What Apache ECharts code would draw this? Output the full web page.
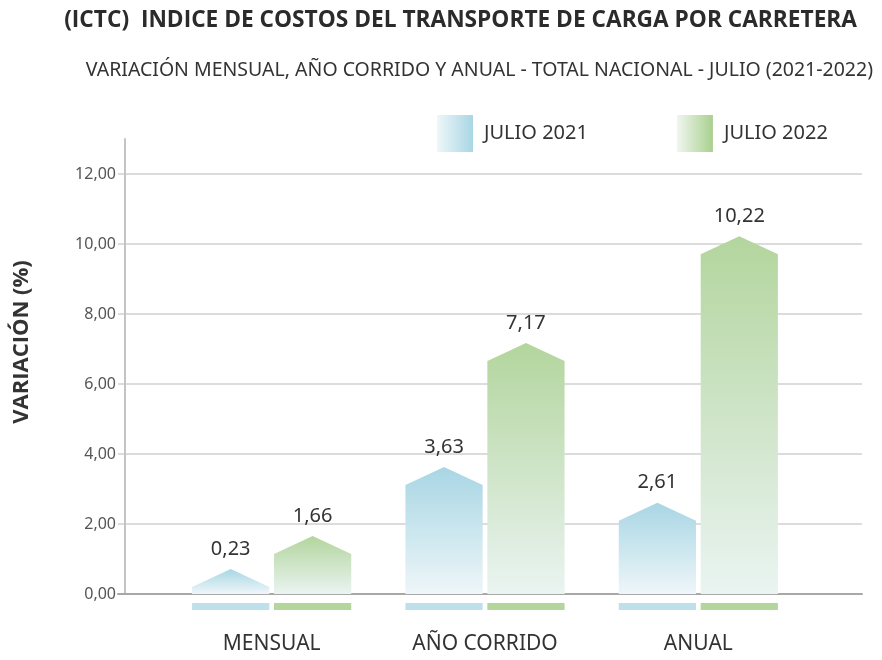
<!DOCTYPE html>
<html>
<head>
<meta charset="utf-8">
<script src="https://cdn.jsdelivr.net/npm/echarts@6/dist/echarts.min.js"></script>
<style>
  html, body { margin: 0; padding: 0; background: #fff; }
  #main { width: 882px; height: 660px; }
</style>
</head>
<body>
<div id="main"></div>
<script>
var categories = ['MENSUAL', 'AÑO CORRIDO', 'ANUAL'];
var seriesNames = ['JULIO 2021', 'JULIO 2022'];
var julio2021 = [0.23, 3.63, 2.61];
var julio2022 = [1.66, 7.17, 10.22];
var yTicks = [0, 2, 4, 6, 8, 10, 12];

var myChart = echarts.init(document.getElementById('main'));

function fmt(v) {
    return v.toFixed(2).replace('.', ',');
}

// colours: [top of bar, bottom of bar, strip under axis]
var palette = [
    ['#a8d6e4', '#eef6f9', '#bde0ea'],
    ['#b3d59d', '#eaf4f2', '#b2d69c']
];

function houseBar(seriesIdx) {
    return function (params, api) {
        var idx = api.value(0);
        var val = api.value(1);
        var base = api.coord([idx, 0]);
        var top = api.coord([idx, val]);
        var band = api.size([1, 0])[0];
        var w = band * 0.362;
        var off = (seriesIdx === 0 ? -1 : 1) * band * 0.192;
        var cx = base[0] + off;
        var tri = 18;
        var shoulder = Math.min(top[1] + tri, base[1] - 7);
        var apex = shoulder - tri;
        var c = palette[seriesIdx];
        return {
            type: 'group',
            children: [{
                type: 'polygon',
                shape: {
                    points: [
                        [cx - w / 2, base[1]],
                        [cx - w / 2, shoulder],
                        [cx, apex],
                        [cx + w / 2, shoulder],
                        [cx + w / 2, base[1]]
                    ]
                },
                style: {
                    fill: new echarts.graphic.LinearGradient(0, 0, 0, 1, [
                        { offset: 0, color: c[0] },
                        { offset: 1, color: c[1] }
                    ])
                }
            }, {
                type: 'rect',
                shape: { x: cx - w / 2, y: base[1] + 9, width: w, height: 7 },
                style: { fill: c[2] }
            }, {
                type: 'text',
                x: cx,
                y: apex - 10,
                style: {
                    text: fmt(val),
                    fill: '#333',
                    font: '20px "Noto Sans"',
                    align: 'center',
                    verticalAlign: 'bottom'
                }
            }]
        };
    };
}

function toData(arr) {
    return arr.map(function (v, i) { return [i, v]; });
}

var option = {
    animation: false,
    title: [{
        text: '(ICTC)  INDICE DE COSTOS DEL TRANSPORTE DE CARGA POR CARRETERA',
        right: 20,
        top: 4,
        textStyle: { color: '#2b2b2b', fontSize: 22.7, fontWeight: 'bold', fontFamily: 'Open Sans' }
    }, {
        text: 'VARIACIÓN MENSUAL, AÑO CORRIDO Y ANUAL - TOTAL NACIONAL - JULIO (2021-2022)',
        right: 4,
        top: 55,
        textStyle: { color: '#333', fontSize: 19.5, fontWeight: 'normal', fontFamily: 'Noto Sans' }
    }],
    graphic: [{
        type: 'text',
        x: 22,
        y: 342,
        rotation: Math.PI / 2,
        style: {
            text: 'VARIACIÓN (%)',
            fill: '#333',
            font: 'bold 22px "Open Sans"',
            align: 'center',
            verticalAlign: 'middle'
        }
    }],
    legend: {
        left: 437,
        top: 115,
        padding: 0,
        itemWidth: 36,
        itemHeight: 37,
        itemGap: 89,
        icon: 'rect',
        textStyle: { color: '#333', fontSize: 20, fontFamily: 'Noto Sans', padding: [0, 0, 0, 6] },
        data: [{
            name: seriesNames[0],
            itemStyle: {
                color: new echarts.graphic.LinearGradient(0, 0, 1, 0, [
                    { offset: 0, color: '#eef7f9' }, { offset: 1, color: '#a8d6e4' }
                ])
            }
        }, {
            name: seriesNames[1],
            itemStyle: {
                color: new echarts.graphic.LinearGradient(0, 0, 1, 0, [
                    { offset: 0, color: '#f0f6f0' }, { offset: 1, color: '#a9d08e' }
                ])
            }
        }]
    },
    grid: [
        { left: 118, right: 20, top: 139, bottom: 66 },
        { left: 165, right: 77, top: 139, bottom: 66 }
    ],
    xAxis: [{
        type: 'value',
        gridIndex: 0,
        min: 0,
        max: 1,
        axisLine: { show: true, onZero: false, lineStyle: { color: '#a8a8a8', width: 2 } },
        axisTick: { show: false },
        axisLabel: { show: false },
        splitLine: { show: false }
    }, {
        type: 'category',
        gridIndex: 1,
        data: categories,
        axisLine: { show: false },
        axisTick: { show: false },
        axisLabel: { color: '#333', fontSize: 21, fontFamily: 'Noto Sans', margin: 40 }
    }],
    yAxis: [{
        type: 'value',
        gridIndex: 0,
        min: 0,
        max: 13,
        interval: 2,
        offset: -7,
        axisLine: { show: true, lineStyle: { color: '#c4c4c4', width: 2 } },
        axisTick: { show: false },
        axisLabel: {
            color: '#555',
            fontSize: 16,
            fontFamily: 'Noto Sans',
            margin: 9,
            formatter: function (v) { return yTicks.indexOf(v) >= 0 ? fmt(v) : ''; }
        },
        splitLine: { lineStyle: { color: ['#dcdcdc', '#dcdcdc', '#dcdcdc', '#dcdcdc', '#dcdcdc', '#dcdcdc', '#dcdcdc', 'rgba(0,0,0,0)'], width: 2 } }
    }, {
        type: 'value',
        gridIndex: 1,
        min: 0,
        max: 13,
        show: false
    }],
    series: [{
        name: seriesNames[0],
        type: 'custom',
        xAxisIndex: 1,
        yAxisIndex: 1,
        renderItem: houseBar(0),
        data: toData(julio2021)
    }, {
        name: seriesNames[1],
        type: 'custom',
        xAxisIndex: 1,
        yAxisIndex: 1,
        renderItem: houseBar(1),
        data: toData(julio2022)
    }]
};

myChart.setOption(option);
</script>
</body>
</html>
